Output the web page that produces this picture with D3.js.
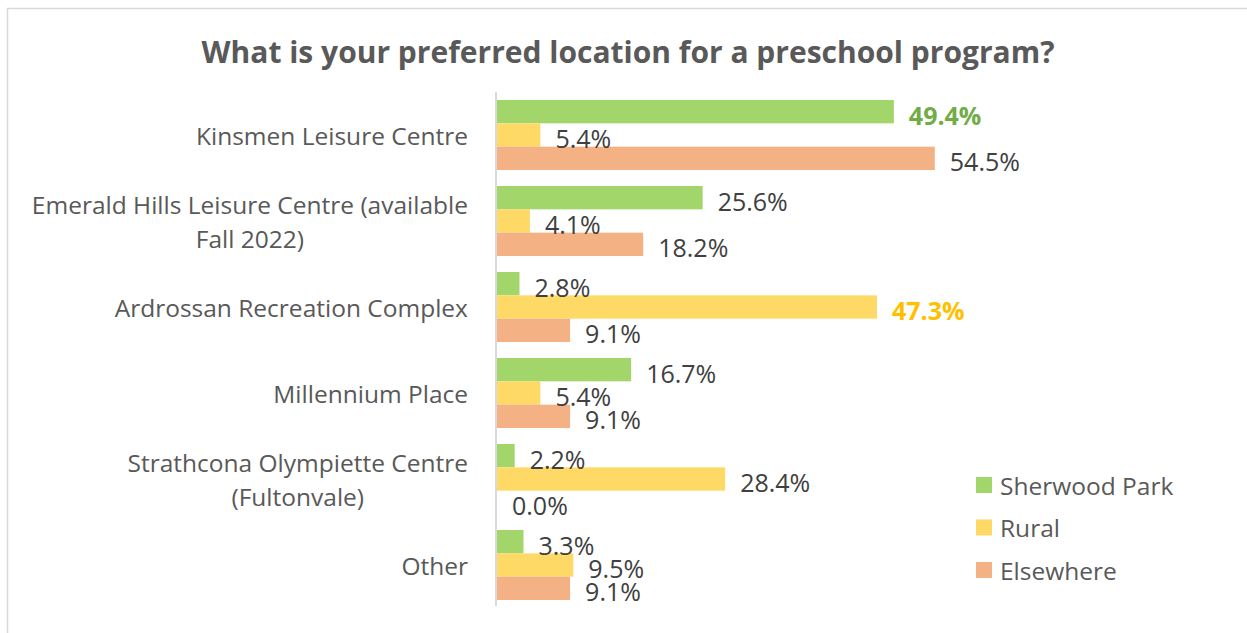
<!DOCTYPE html>
<html>
<head>
<meta charset="utf-8">
<script src="https://cdn.jsdelivr.net/npm/d3@7"></script>
<style>
  body { margin: 0; background: #fff; }
  svg text { font-family: "Open Sans", "Noto Sans", sans-serif; }
</style>
</head>
<body>
<svg id="chart" width="1247" height="633"></svg>
<script>
var categories = [
    ["Kinsmen Leisure Centre"],
    ["Emerald Hills Leisure Centre (available", "Fall 2022)"],
    ["Ardrossan Recreation Complex"],
    ["Millennium Place"],
    ["Strathcona Olympiette Centre", "(Fultonvale)"],
    ["Other"]
];
var seriesNames = ["Sherwood Park", "Rural", "Elsewhere"];
var sherwoodPark = [49.4, 25.6, 2.8, 16.7, 2.2, 3.3];
var rural = [5.4, 4.1, 47.3, 5.4, 28.4, 9.5];
var elsewhere = [54.5, 18.2, 9.1, 9.1, 0.0, 9.1];
var barColors = ["#a2d66a", "#ffd966", "#f4b183"];
// labels that excel highlighted in bold
var highlight = { "0-0": "#70ad47", "2-1": "#ffc000" };

var svg = d3.select("#chart");

// outer chart border
svg.append("rect")
    .attr("x", 7.5).attr("y", 8.5)
    .attr("width", 1260).attr("height", 650)
    .attr("fill", "none")
    .attr("stroke", "#d9d9d9")
    .attr("stroke-width", 1.5);

svg.append("text")
    .attr("x", 628).attr("y", 63)
    .attr("text-anchor", "middle")
    .attr("font-size", 30)
    .attr("font-weight", "bold")
    .attr("fill", "#595959")
    .text("What is your preferred location for a preschool program?");

var x = d3.scaleLinear().domain([0, 60]).range([497, 979]);
var y = d3.scaleBand()
    .domain(d3.range(categories.length))
    .range([92, 608])
    .paddingInner(0.186)
    .paddingOuter(0.093);
var ys = d3.scaleBand()
    .domain(d3.range(seriesNames.length))
    .range([0, y.bandwidth()]);

var values = [sherwoodPark, rural, elsewhere];
var rows = [];
categories.forEach(function(c, i) {
    values.forEach(function(s, j) {
        rows.push({ cat: i, ser: j, value: s[i] });
    });
});

svg.append("g")
    .selectAll("rect")
    .data(rows)
    .enter().append("rect")
    .attr("x", x(0))
    .attr("y", function(d) { return y(d.cat) + ys(d.ser); })
    .attr("width", function(d) { return x(d.value) - x(0); })
    .attr("height", ys.bandwidth())
    .attr("fill", function(d) { return barColors[d.ser]; });

svg.append("g")
    .selectAll("text")
    .data(rows)
    .enter().append("text")
    .attr("x", function(d) { return x(d.value) + 15; })
    .attr("y", function(d) { return y(d.cat) + ys(d.ser) + ys.bandwidth() / 2 + 3; })
    .attr("dominant-baseline", "central")
    .attr("font-size", 25)
    .attr("font-weight", function(d) { return highlight[d.cat + "-" + d.ser] ? "bold" : "normal"; })
    .attr("fill", function(d) { return highlight[d.cat + "-" + d.ser] || "#404040"; })
    .text(function(d) { return d.value.toFixed(1) + "%"; });

// vertical category axis
svg.append("line")
    .attr("x1", 496).attr("x2", 496)
    .attr("y1", 92).attr("y2", 606)
    .attr("stroke", "#d9d9d9")
    .attr("stroke-width", 2);

var catLabels = svg.append("g")
    .selectAll("g")
    .data(categories)
    .enter().append("g");

catLabels.each(function(lines, i) {
    var g = d3.select(this);
    var cy = y(i) + y.bandwidth() / 2;
    var lh = 34;
    var t = g.append("text")
        .attr("font-size", 24.5)
        .attr("fill", "#595959")
        .attr("text-anchor", "middle");
    lines.forEach(function(l, k) {
        t.append("tspan")
            .attr("x", 0)
            .attr("y", cy + (k - (lines.length - 1) / 2) * lh)
            .attr("dominant-baseline", "central")
            .text(l);
    });
    // right align the block at 468, lines centred within it
    var w = t.node().getBBox().width;
    t.selectAll("tspan").attr("x", 468 - w / 2);
});

var legend = svg.append("g")
    .selectAll("g")
    .data(seriesNames)
    .enter().append("g")
    .attr("transform", function(d, i) { return "translate(976," + (485 + i * 42.5) + ")"; });

legend.append("rect")
    .attr("x", 0).attr("y", -8)
    .attr("width", 16).attr("height", 16)
    .attr("fill", function(d, i) { return barColors[i]; });

legend.append("text")
    .attr("x", 24).attr("y", 0)
    .attr("dominant-baseline", "central")
    .attr("font-size", 24.5)
    .attr("fill", "#595959")
    .text(function(d) { return d; });
</script>
</body>
</html>
